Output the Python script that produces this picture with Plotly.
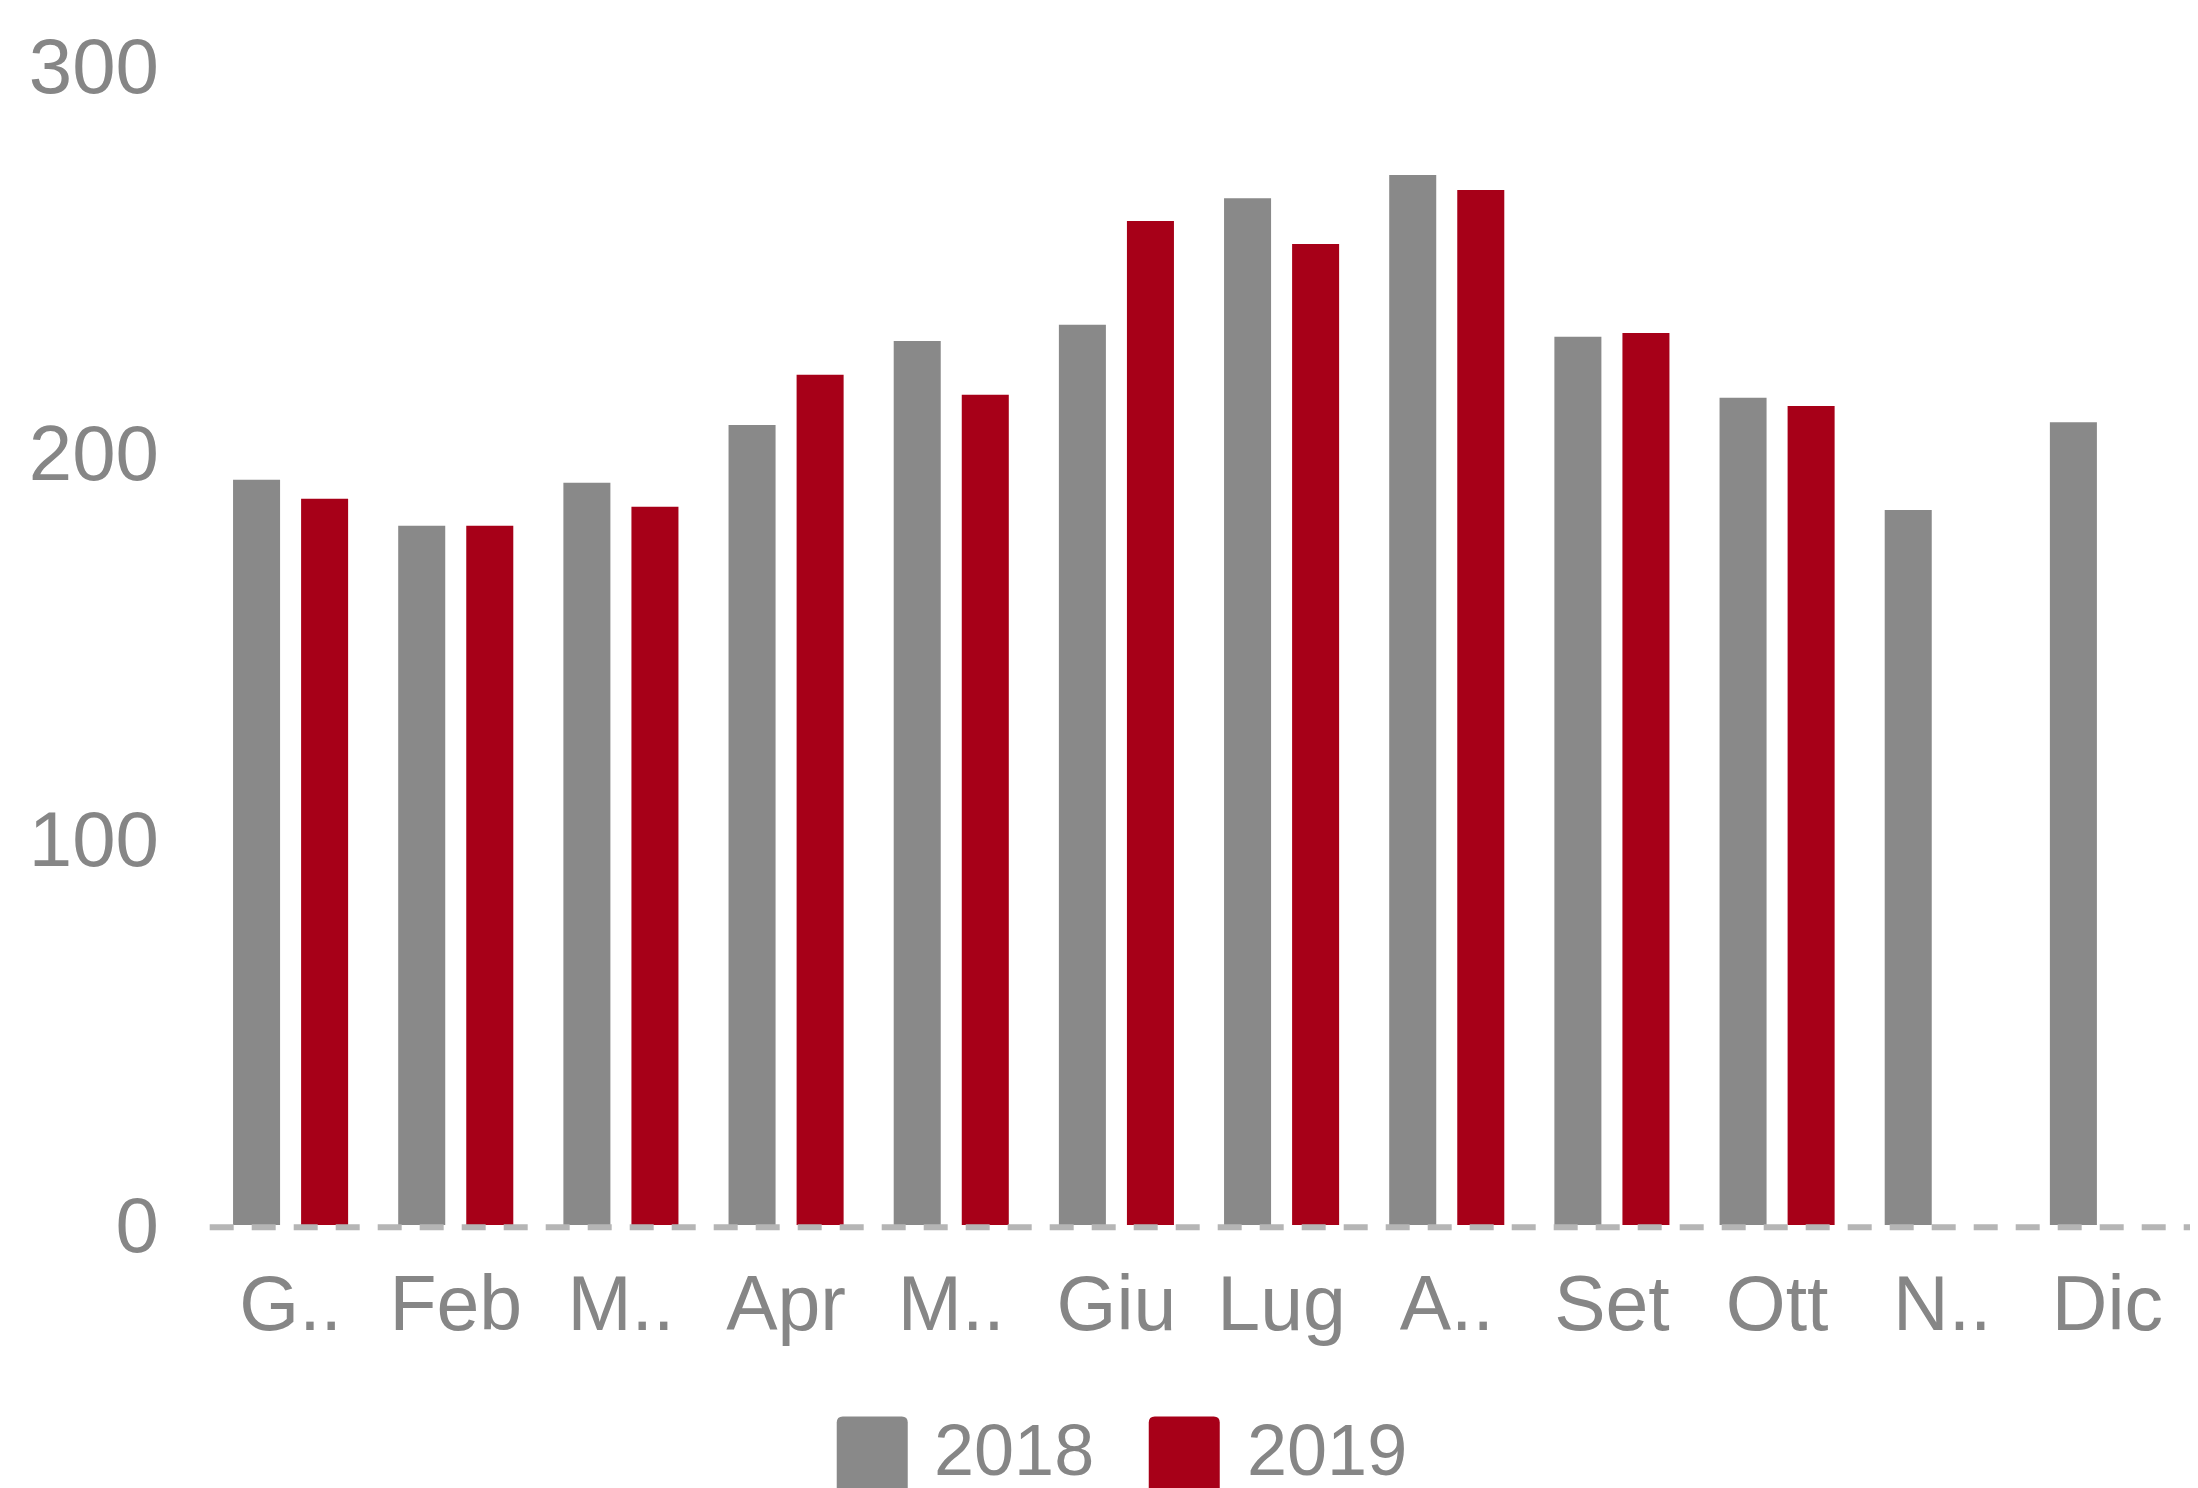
import plotly.graph_objects as go

# ---- data ----
months = ["Gen", "Feb", "Mar", "Apr", "Mag", "Giu", "Lug", "Ago", "Set", "Ott", "Nov", "Dic"]
month_labels = ["G..", "Feb", "M..", "Apr", "M..", "Giu", "Lug", "A..", "Set", "Ott", "N..", "Dic"]
values_2018 = [192.9, 181.0, 192.1, 207.1, 228.8, 233.0, 265.8, 271.8, 229.9, 214.1, 185.1, 207.8]
values_2019 = [188.0, 181.0, 185.9, 220.1, 214.9, 259.9, 253.9, 267.9, 230.9, 212.0, None, None]
series_names = ["2018", "2019"]
y_ticks = [0, 100, 200, 300]

# ---- style ----
W, H = 2198, 1488
OFF = 8  # page body margin
PLOT_L, PLOT_R, PLOT_T, PLOT_B = 208.3, 2190.2, 66, 1225.5  # page coords
ML = PLOT_L - OFF
MR = W - (PLOT_R - OFF)
MT = PLOT_T - OFF
MB = H - (PLOT_B - OFF)
GRAY = "#898989"
RED = "#a70018"
TEXT = "#868686"
DASH = "#b5b5b5"
FONT = "Liberation Sans, Arial, sans-serif"

fig = go.Figure()
fig.add_trace(go.Bar(x=months, y=values_2018, name=series_names[0],
                     marker=dict(color=GRAY, line=dict(width=0)), showlegend=False))
fig.add_trace(go.Bar(x=months, y=values_2019, name=series_names[1],
                     marker=dict(color=RED, line=dict(width=0)), showlegend=False))

plot_w = PLOT_R - PLOT_L
plot_h = PLOT_B - PLOT_T


def px_x(px):
    return (px - PLOT_L) / plot_w


def px_y(py):
    return (PLOT_B - py) / plot_h


def rounded_rect(x0, y0, x1, y1, r):
    X = px_x
    Y = px_y
    return (f"M {X(x0 + r)},{Y(y0)} L {X(x1 - r)},{Y(y0)} Q {X(x1)},{Y(y0)} {X(x1)},{Y(y0 + r)} "
            f"L {X(x1)},{Y(y1 - r)} Q {X(x1)},{Y(y1)} {X(x1 - r)},{Y(y1)} "
            f"L {X(x0 + r)},{Y(y1)} Q {X(x0)},{Y(y1)} {X(x0)},{Y(y1 - r)} "
            f"L {X(x0)},{Y(y0 + r)} Q {X(x0)},{Y(y0)} {X(x0 + r)},{Y(y0)} Z")


shapes = [
    dict(type="line", xref="paper", yref="paper", x0=px_x(210), x1=px_x(2230),
         y0=px_y(1227.7), y1=px_y(1227.7),
         line=dict(color=DASH, width=6, dash="24px,18px"), layer="above"),
]
annotations = []
legend_items = [(series_names[0], GRAY, 837, 932), (series_names[1], RED, 1149, 1245)]
for name, col, sx, tx in legend_items:
    shapes.append(dict(type="path", xref="paper", yref="paper",
                       path=rounded_rect(sx, 1417, sx + 71, 1506, 6),
                       fillcolor=col, line=dict(width=0)))
    annotations.append(dict(text=name, xref="paper", yref="paper",
                            x=px_x(tx), y=px_y(1451), xanchor="left", yanchor="middle",
                            showarrow=False, font=dict(family=FONT, size=72, color=TEXT)))

fig.update_layout(
    width=W, height=H,
    margin=dict(l=ML, r=MR, t=MT, b=MB, pad=0),
    paper_bgcolor="white", plot_bgcolor="white",
    barmode="group", bargap=0.176, bargroupgap=0.309,
    font=dict(family=FONT, size=75, color=TEXT),
    shapes=shapes, annotations=annotations,
    showlegend=False,
)
fig.update_xaxes(
    type="category", tickmode="array", tickvals=months, ticktext=month_labels,
    showgrid=False, zeroline=False, showline=False, ticks="",
    ticklabelstandoff=27, tickfont=dict(family=FONT, size=77, color=TEXT),
)
fig.update_yaxes(
    range=[0, 300], tickmode="array", tickvals=y_ticks,
    showgrid=False, zeroline=False, showline=False, ticks="",
    ticklabelstandoff=48, tickfont=dict(family=FONT, size=78, color=TEXT),
)

fig.write_html("out.html")
